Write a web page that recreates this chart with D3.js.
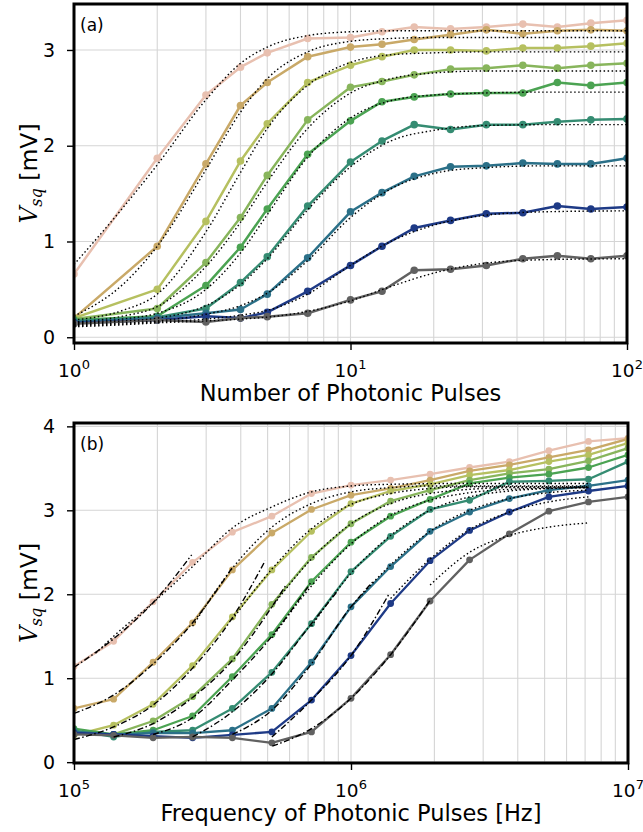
<!DOCTYPE html>
<html>
<head>
<meta charset="utf-8">
<script src="https://cdn.jsdelivr.net/npm/d3@7"></script>
<style>
  body { margin: 0; background: #fff; }
  svg { display: block; }
  text { font-family: "DejaVu Sans", sans-serif; fill: #000; }
</style>
</head>
<body>
<svg id="chart" width="643" height="832"></svg>
<script>
'use strict';

// ---- data ----
// series order: top curve (pink) to bottom curve (gray)
var seriesColors = ['#e8c0b0', '#c9a968', '#b6c060', '#88b55c', '#4ba352', '#358c72', '#2b7088', '#1e3a86', '#616161'];

// panel (a): number of photonic pulses
var pulses = [1, 2, 3, 4, 5, 7, 10, 13, 17, 23, 31, 42, 56, 74, 100];
var pulsesV = [
  [0.66, 1.87, 2.53, 2.82, 2.97, 3.12, 3.13, 3.19, 3.24, 3.22, 3.24, 3.27, 3.24, 3.28, 3.31],
  [0.20, 0.95, 1.81, 2.42, 2.66, 2.93, 3.03, 3.06, 3.11, 3.16, 3.21, 3.17, 3.20, 3.21, 3.20],
  [0.20, 0.50, 1.21, 1.84, 2.23, 2.66, 2.84, 2.93, 3.00, 3.00, 2.99, 3.02, 3.02, 3.04, 3.07],
  [0.19, 0.30, 0.78, 1.25, 1.69, 2.27, 2.61, 2.67, 2.74, 2.80, 2.81, 2.84, 2.81, 2.84, 2.86],
  [0.18, 0.22, 0.54, 0.94, 1.34, 1.91, 2.26, 2.46, 2.51, 2.54, 2.55, 2.55, 2.66, 2.63, 2.66],
  [0.17, 0.21, 0.30, 0.57, 0.84, 1.37, 1.83, 2.05, 2.22, 2.17, 2.22, 2.22, 2.25, 2.27, 2.28],
  [0.16, 0.20, 0.25, 0.29, 0.45, 0.83, 1.31, 1.51, 1.68, 1.78, 1.79, 1.82, 1.81, 1.81, 1.87],
  [0.15, 0.18, 0.22, 0.20, 0.26, 0.48, 0.75, 0.95, 1.14, 1.22, 1.29, 1.30, 1.37, 1.34, 1.36],
  [0.14, 0.18, 0.16, 0.20, 0.215, 0.25, 0.39, 0.48, 0.70, 0.71, 0.75, 0.82, 0.85, 0.82, 0.85]
];
// dotted fit curves of panel (a), sampled at pulsesFitN
var pulsesFitN = [1, 1.5, 2, 3, 4, 5, 7, 10, 14, 20, 30, 50, 100];
var pulsesFitV = [
  [0.76, 1.35, 1.80, 2.48, 2.86, 3.03, 3.15, 3.19, 3.20, 3.20, 3.20, 3.20, 3.20],
  [0.22, 0.55, 0.95, 1.75, 2.35, 2.70, 2.98, 3.09, 3.12, 3.13, 3.13, 3.13, 3.13],
  [0.18, 0.28, 0.45, 1.10, 1.72, 2.18, 2.63, 2.87, 2.95, 2.97, 2.98, 2.98, 2.98],
  [0.16, 0.22, 0.32, 0.74, 1.20, 1.62, 2.18, 2.55, 2.70, 2.76, 2.78, 2.78, 2.78],
  [0.15, 0.19, 0.25, 0.50, 0.88, 1.28, 1.88, 2.29, 2.47, 2.53, 2.55, 2.56, 2.56],
  [0.14, 0.17, 0.20, 0.33, 0.55, 0.82, 1.33, 1.78, 2.05, 2.16, 2.21, 2.22, 2.22],
  [0.13, 0.15, 0.17, 0.24, 0.33, 0.46, 0.80, 1.25, 1.55, 1.71, 1.77, 1.79, 1.79],
  [0.12, 0.14, 0.16, 0.19, 0.23, 0.28, 0.45, 0.75, 1.00, 1.17, 1.27, 1.31, 1.32],
  [0.11, 0.13, 0.15, 0.17, 0.19, 0.21, 0.27, 0.38, 0.53, 0.67, 0.77, 0.81, 0.82]
];

// panel (b): frequency of photonic pulses [Hz]
var freqs = [1.0e5, 1.39e5, 1.93e5, 2.68e5, 3.73e5, 5.18e5, 7.2e5, 1.0e6, 1.39e6, 1.93e6, 2.68e6, 3.73e6, 5.18e6, 7.2e6, 1.0e7];
var freqsV = [
  [1.14, 1.44, 1.91, 2.38, 2.74, 2.93, 3.20, 3.30, 3.36, 3.43, 3.51, 3.58, 3.71, 3.82, 3.86],
  [0.64, 0.75, 1.19, 1.66, 2.29, 2.73, 3.01, 3.18, 3.26, 3.36, 3.47, 3.54, 3.63, 3.72, 3.85],
  [0.32, 0.44, 0.69, 1.15, 1.73, 2.29, 2.75, 3.08, 3.23, 3.31, 3.42, 3.48, 3.58, 3.66, 3.80],
  [0.35, 0.33, 0.49, 0.78, 1.23, 1.88, 2.44, 2.84, 3.11, 3.24, 3.36, 3.44, 3.49, 3.59, 3.74],
  [0.40, 0.33, 0.38, 0.55, 1.02, 1.52, 2.15, 2.62, 2.93, 3.13, 3.32, 3.39, 3.43, 3.51, 3.66],
  [0.38, 0.30, 0.36, 0.38, 0.64, 1.07, 1.65, 2.27, 2.69, 3.01, 3.12, 3.34, 3.35, 3.37, 3.58],
  [0.36, 0.33, 0.345, 0.345, 0.38, 0.64, 1.19, 1.85, 2.33, 2.75, 2.98, 3.14, 3.24, 3.29, 3.36],
  [0.35, 0.33, 0.31, 0.29, 0.325, 0.36, 0.74, 1.27, 1.89, 2.40, 2.76, 2.98, 3.16, 3.23, 3.29],
  [0.33, 0.32, 0.29, 0.30, 0.29, 0.23, 0.36, 0.76, 1.28, 1.92, 2.41, 2.72, 2.99, 3.10, 3.16]
];
// dotted (saturation) fits of panel (b), [frequency, V]
var freqsFitSat = [
  [[1.2e5, 1.30], [1.39e5, 1.50], [1.93e5, 1.90], [2.68e5, 2.33], [3.73e5, 2.79], [5.18e5, 3.04], [7.2e5, 3.22], [1e6, 3.29], [1.39e6, 3.31], [2.68e6, 3.32], [7.2e6, 3.32]],
  [[2.68e5, 1.62], [3.73e5, 2.31], [5.18e5, 2.80], [7.2e5, 3.08], [1e6, 3.22], [1.39e6, 3.27], [1.93e6, 3.29], [7.2e6, 3.29]],
  [[3.73e5, 1.70], [5.18e5, 2.30], [7.2e5, 2.78], [1e6, 3.07], [1.39e6, 3.20], [1.93e6, 3.26], [2.68e6, 3.28], [7.2e6, 3.28]],
  [[5.18e5, 1.85], [7.2e5, 2.42], [1e6, 2.84], [1.39e6, 3.08], [1.93e6, 3.20], [2.68e6, 3.25], [3.73e6, 3.27], [7.2e6, 3.27]],
  [[5.18e5, 1.48], [7.2e5, 2.10], [1e6, 2.60], [1.39e6, 2.94], [1.93e6, 3.12], [2.68e6, 3.21], [3.73e6, 3.25], [7.2e6, 3.27]],
  [[7.2e5, 1.62], [1e6, 2.25], [1.39e6, 2.70], [1.93e6, 3.00], [2.68e6, 3.16], [3.73e6, 3.23], [5.18e6, 3.26], [7.2e6, 3.27]],
  [[1e6, 1.85], [1.39e6, 2.35], [1.93e6, 2.75], [2.68e6, 3.00], [3.73e6, 3.14], [5.18e6, 3.21], [7.2e6, 3.24]],
  [[1.39e6, 1.95], [1.93e6, 2.42], [2.68e6, 2.77], [3.73e6, 2.98], [5.18e6, 3.10], [7.2e6, 3.16]],
  [[1.93e6, 2.11], [2.68e6, 2.50], [3.73e6, 2.70], [5.18e6, 2.80], [7.2e6, 2.85]]
];
// dash-dot (rise) fits of panel (b), [frequency, V]
var freqsFitRise = [
  [[1e5, 1.13], [1.39e5, 1.47], [1.93e5, 1.90], [2.66e5, 2.47]],
  [[1e5, 0.58], [1.39e5, 0.80], [1.93e5, 1.17], [2.68e5, 1.66], [3.73e5, 2.32]],
  [[1e5, 0.27], [1.39e5, 0.42], [1.93e5, 0.68], [2.68e5, 1.12], [3.73e5, 1.72], [4.9e5, 2.40]],
  [[1.39e5, 0.30], [1.93e5, 0.46], [2.68e5, 0.77], [3.73e5, 1.21], [5.18e5, 1.85], [5.8e5, 2.10]],
  [[1.93e5, 0.33], [2.68e5, 0.53], [3.73e5, 0.98], [5.18e5, 1.50], [7.2e5, 2.15]],
  [[2.68e5, 0.30], [3.73e5, 0.60], [5.18e5, 1.05], [7.2e5, 1.65], [9e5, 2.05]],
  [[3.73e5, 0.33], [5.18e5, 0.62], [7.2e5, 1.17], [1e6, 1.85], [1.2e6, 2.15]],
  [[5.18e5, 0.30], [7.2e5, 0.74], [1e6, 1.27], [1.37e6, 2.00]],
  [[5.2e5, 0.19], [7.2e5, 0.40], [1e6, 0.76], [1.39e6, 1.28], [1.95e6, 1.95]]
];

var svg = d3.select('#chart');
var defs = svg.append('defs');

//draws one panel: grid, series, fits, spines, axes and labels
function drawPanel(cfg) {
    var x = d3.scaleLog().domain(cfg.xDomain).range([cfg.left, cfg.right]);
    var y = d3.scaleLinear().domain(cfg.yDomain).range([cfg.bottom, cfg.top]);
    var g = svg.append('g').attr('id', 'panel-' + cfg.tag);

    defs.append('clipPath').attr('id', 'clip-' + cfg.tag)
      .append('rect')
        .attr('x', cfg.left).attr('y', cfg.top)
        .attr('width', cfg.right - cfg.left).attr('height', cfg.bottom - cfg.top);

    //grid: every log tick on x, major ticks on y
    var grid = g.append('g').attr('stroke', '#d5d5d5').attr('stroke-width', 1.1);
    grid.selectAll('.gx').data(x.ticks()).enter().append('line')
        .attr('x1', function (d) { return x(d); }).attr('x2', function (d) { return x(d); })
        .attr('y1', cfg.top).attr('y2', cfg.bottom);
    grid.selectAll('.gy').data(cfg.yMajor).enter().append('line')
        .attr('x1', cfg.left).attr('x2', cfg.right)
        .attr('y1', function (d) { return y(d); }).attr('y2', function (d) { return y(d); });

    var plot = g.append('g').attr('clip-path', 'url(#clip-' + cfg.tag + ')');
    var line = d3.line().x(function (d) { return x(d[0]); }).y(function (d) { return y(d[1]); });
    var smooth = d3.line().curve(d3.curveMonotoneX)
        .x(function (d) { return x(d[0]); }).y(function (d) { return y(d[1]); });

    cfg.values.forEach(function (vals, i) {
        var pts = cfg.xs.map(function (xv, j) { return [xv, vals[j]]; });
        plot.append('path').datum(pts)
            .attr('d', line).attr('fill', 'none')
            .attr('stroke', seriesColors[i]).attr('stroke-width', cfg.lw)
            .attr('stroke-linejoin', 'round');
        plot.append('g').selectAll('circle').data(pts).enter().append('circle')
            .attr('cx', function (d) { return x(d[0]); })
            .attr('cy', function (d) { return y(d[1]); })
            .attr('r', cfg.r).attr('fill', seriesColors[i]);
    });

    cfg.fits.forEach(function (fit) {
        fit.curves.forEach(function (pts) {
            plot.append('path').datum(pts)
                .attr('d', smooth).attr('fill', 'none')
                .attr('stroke', '#000').attr('stroke-width', 1.4)
                .attr('stroke-dasharray', fit.dash);
        });
    });

    //spines
    g.append('rect')
        .attr('x', cfg.left).attr('y', cfg.top)
        .attr('width', cfg.right - cfg.left).attr('height', cfg.bottom - cfg.top)
        .attr('fill', 'none').attr('stroke', '#000').attr('stroke-width', 3);

    //x axis: majors with 10^n labels, minors without
    var decades = x.ticks().filter(function (d) { return Math.abs(Math.log10(d) - Math.round(Math.log10(d))) < 1e-9; });
    var xMinor = x.ticks().filter(function (d) { return decades.indexOf(d) < 0; });
    var xAx = g.append('g').attr('transform', 'translate(0,' + cfg.bottom + ')');
    xAx.call(d3.axisBottom(x).tickValues(xMinor).tickSize(4).tickFormat(''));
    xAx.call(d3.axisBottom(x).tickValues(decades).tickSize(7).tickFormat(''));
    xAx.select('.domain').remove();
    xAx.selectAll('line').attr('stroke', '#000').attr('stroke-width', 1.4);
    g.append('g').selectAll('text').data(decades).enter().append('text')
        .attr('x', function (d) { return x(d); })
        .attr('y', cfg.bottom + 34)
        .attr('text-anchor', 'middle').attr('font-size', 18.5)
        .each(function (d) {
            var t = d3.select(this);
            t.append('tspan').text('10');
            t.append('tspan').attr('dy', -8).attr('font-size', 13).text(Math.round(Math.log10(d)));
        });

    //y axis
    var yAx = g.append('g').attr('transform', 'translate(' + cfg.left + ',0)');
    yAx.call(d3.axisLeft(y).tickValues(cfg.yMinor).tickSize(4).tickFormat(''));
    yAx.call(d3.axisLeft(y).tickValues(cfg.yMajor).tickSize(7).tickPadding(12).tickFormat(d3.format('d')));
    yAx.select('.domain').remove();
    yAx.selectAll('line').attr('stroke', '#000').attr('stroke-width', 1.4);
    yAx.selectAll('text').attr('font-size', 19).attr('font-family', '"DejaVu Sans", sans-serif').attr('fill', '#000');

    //axis titles
    g.append('text')
        .attr('x', (cfg.left + cfg.right) / 2).attr('y', cfg.bottom + 58)
        .attr('text-anchor', 'middle').attr('font-size', 22.5)
        .text(cfg.xTitle);

    var yt = g.append('text')
        .attr('transform', 'translate(37,' + ((cfg.top + cfg.bottom) / 2) + ') rotate(-90)')
        .attr('text-anchor', 'middle').attr('font-size', 23.5);
    yt.append('tspan').attr('font-family', '"DejaVu Serif", serif').attr('font-style', 'italic').text('V');
    yt.append('tspan').attr('font-family', '"DejaVu Serif", serif').attr('font-style', 'italic')
        .attr('font-size', 16).attr('dy', 5).text('sq');
    yt.append('tspan').attr('dy', -5).text('\u00a0[mV]');

    //panel tag
    g.append('text')
        .attr('x', cfg.left + 6).attr('y', cfg.top + 27)
        .attr('font-size', 17).text('(' + cfg.tag + ')');
}

drawPanel({
    tag: 'a',
    left: 74, right: 627, top: 4, bottom: 343,
    xDomain: [1, 100], yDomain: [-0.06, 3.48],
    yMajor: [0, 1, 2, 3],
    yMinor: d3.range(0, 3.41, 0.2),
    xs: pulses, values: pulsesV,
    lw: 2.5, r: 3.8,
    fits: [
        { dash: '1.5,2.5', curves: pulsesFitV.map(function (vals) {
            return pulsesFitN.map(function (n, j) { return [n, vals[j]]; });
        }) }
    ],
    xTitle: 'Number of Photonic Pulses'
});

drawPanel({
    tag: 'b',
    left: 74, right: 628, top: 423, bottom: 763,
    xDomain: [1e5, 1e7], yDomain: [-0.01, 4.04],
    yMajor: [0, 1, 2, 3, 4],
    yMinor: d3.range(0, 4.01, 0.2),
    xs: freqs, values: freqsV,
    lw: 2.3, r: 3.4,
    fits: [
        { dash: '1.5,2.5', curves: freqsFitSat },
        { dash: '6,2.5,1.5,2.5', curves: freqsFitRise }
    ],
    xTitle: 'Frequency of Photonic Pulses [Hz]'
});
</script>
</body>
</html>
